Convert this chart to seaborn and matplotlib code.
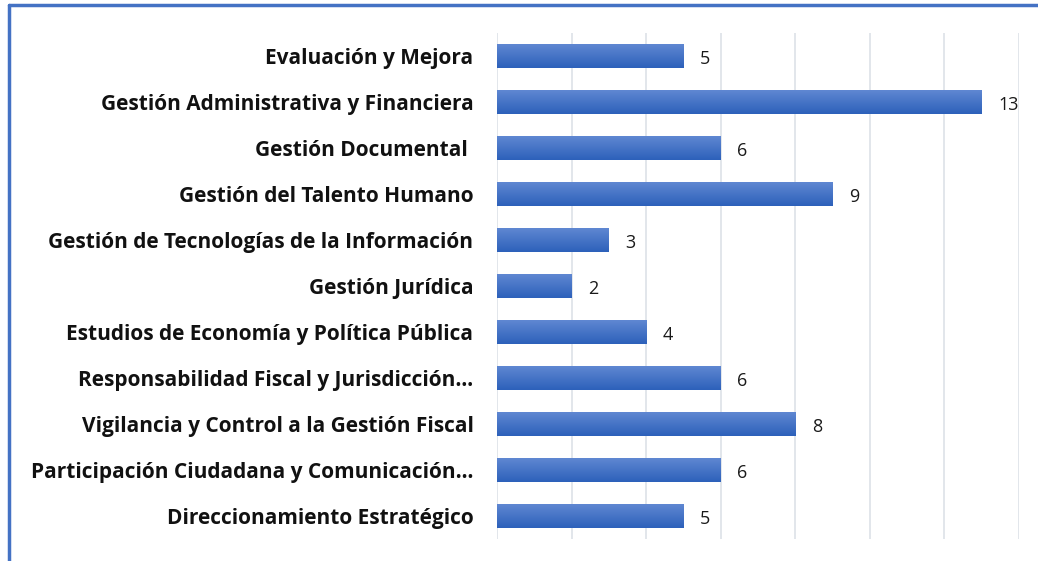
import numpy as np
import pandas as pd
import matplotlib
matplotlib.use("Agg")
import matplotlib.pyplot as plt
import seaborn as sns
from matplotlib.colors import LinearSegmentedColormap

procesos = [
    "Evaluación y Mejora",
    "Gestión Administrativa y Financiera",
    "Gestión Documental ",
    "Gestión del Talento Humano",
    "Gestión de Tecnologías de la Información",
    "Gestión Jurídica",
    "Estudios de Economía y Política Pública",
    "Responsabilidad Fiscal y Jurisdicción…",
    "Vigilancia y Control a la Gestión Fiscal",
    "Participación Ciudadana y Comunicación…",
    "Direccionamiento Estratégico",
]
cantidad = [5, 13, 6, 9, 3, 2, 4, 6, 8, 6, 5]

df = pd.DataFrame({"proceso": procesos, "cantidad": cantidad})

sns.set_style("white")
plt.rcParams["font.family"] = ["Open Sans", "DejaVu Sans"]

fig = plt.figure(figsize=(10.38, 5.61), dpi=100)
ax = fig.add_axes([497 / 1038, 1 - 539 / 561, (1019 - 497) / 1038, (539 - 33) / 561])

sns.barplot(data=df, x="cantidad", y="proceso", orient="h", color="#4472C4",
            width=0.52, ax=ax, zorder=2)

# Excel-like vertical gradient on each bar
grad = LinearSegmentedColormap.from_list("g", ["#5F87D2", "#2D61BA"])
for p in ax.patches:
    x0, y0 = p.get_x(), p.get_y()
    w, h = p.get_width(), p.get_height()
    im = ax.imshow(np.linspace(0, 1, 50).reshape(-1, 1), cmap=grad, aspect="auto",
                   extent=[x0, x0 + w, y0 + h, y0], zorder=3)
    im.set_clip_path(p)
    p.set_facecolor("none")
    p.set_edgecolor("none")

for i, v in enumerate(cantidad):
    ax.text(v + 0.45, i + 0.06, str(v), va="center", ha="left", fontsize=13, color="#1a1a1a")

ax.set_xlim(0, 14)
ax.set_ylim(len(procesos) - 0.5, -0.5)
ax.set_xticks(range(0, 15, 2))
ax.xaxis.grid(True, color="#DDE1E8", linewidth=1.2, zorder=0)
ax.set_axisbelow(True)
ax.tick_params(axis="x", length=0, labelbottom=False)
ax.tick_params(axis="y", length=0, pad=17)
for lbl in ax.get_yticklabels():
    lbl.set_fontweight("bold")
    lbl.set_fontsize(15)
    lbl.set_color("#111111")
ax.set_xlabel("")
ax.set_ylabel("")
for s in ax.spines.values():
    s.set_visible(False)

# chart frame (left and top edges visible in the crop)
fig.add_artist(plt.Line2D([9 / 1038, 9 / 1038], [0, 1 - 5 / 561], color="#4472C4", lw=2.5))
fig.add_artist(plt.Line2D([9 / 1038, 1], [1 - 5 / 561, 1 - 5 / 561], color="#4472C4", lw=2.5))

fig.savefig("out.png", dpi=100)
